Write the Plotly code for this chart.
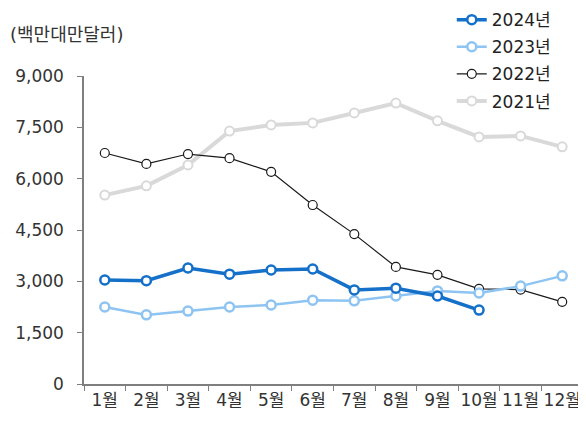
import plotly.graph_objects as go

months = ["1월", "2월", "3월", "4월", "5월", "6월", "7월", "8월", "9월", "10월", "11월", "12월"]

sales_2021 = [5520, 5790, 6400, 7390, 7570, 7630, 7920, 8210, 7690, 7220, 7250, 6930]
sales_2022 = [6750, 6430, 6720, 6600, 6200, 5230, 4380, 3420, 3190, 2780, 2760, 2400]
sales_2023 = [2250, 2020, 2130, 2250, 2310, 2450, 2430, 2570, 2720, 2660, 2860, 3160]
sales_2024 = [3040, 3020, 3390, 3210, 3330, 3360, 2750, 2800, 2570, 2160]

y_ticks = [0, 1500, 3000, 4500, 6000, 7500, 9000]

fig = go.Figure()

# oldest first so 2024 sits on top; legendrank puts 2024 first in the legend
fig.add_trace(go.Scatter(x=months, y=sales_2021, mode='lines+markers', name='2021년', legendgroup='2021', legendrank=4,
                         line=dict(color='#D9D9D9', width=4),
                         marker=dict(symbol='circle', size=9, color='white', line=dict(color='#D9D9D9', width=2))))
fig.add_trace(go.Scatter(x=months, y=sales_2022, mode='lines+markers', name='2022년', legendgroup='2022', legendrank=3,
                         line=dict(color='#1A1A1A', width=1.2),
                         marker=dict(symbol='circle', size=9, color='white', line=dict(color='#1A1A1A', width=1.2))))
fig.add_trace(go.Scatter(x=months, y=sales_2023, mode='lines+markers', name='2023년', legendgroup='2023', legendrank=2,
                         line=dict(color='#8EC4F2', width=2.5),
                         marker=dict(symbol='circle', size=9, color='white', line=dict(color='#8EC4F2', width=2.5))))
fig.add_trace(go.Scatter(x=months[:len(sales_2024)], y=sales_2024, mode='lines+markers', name='2024년', legendgroup='2024', legendrank=1,
                         line=dict(color='#1470C8', width=3.5),
                         marker=dict(symbol='circle', size=9, color='white', line=dict(color='#1470C8', width=2.5))))

fig.add_annotation(text='(백만대만달러)', xref='paper', yref='paper', x=-0.152, y=1.135,
                   xanchor='left', yanchor='middle', showarrow=False,
                   font=dict(size=18, color='#333333'))

# the page body has an 8px margin, so the figure is sized 8px smaller than the window
fig.update_layout(
    width=578, height=413,
    margin=dict(l=76, r=3, t=68, b=37, autoexpand=False),
    plot_bgcolor='white',
    paper_bgcolor='white',
    font=dict(family='DejaVu Sans, Noto Sans CJK KR, sans-serif', size=17, color='#333333'),
    legend=dict(x=0.737, y=1.24, xanchor='left', yanchor='top',
                traceorder='grouped', tracegroupgap=2, font=dict(size=17, color='#222222'),
                bgcolor='rgba(0,0,0,0)'),
    xaxis=dict(type='category', range=[-0.5, 11.5], showgrid=False, showline=True,
               linecolor='#7F7F7F', linewidth=1.5, ticks='outside', tickson='boundaries',
               ticklen=5, tickcolor='#7F7F7F', tickangle=0),
    yaxis=dict(range=[0, 9000], tickvals=y_ticks, tickformat=',', showgrid=False, showline=True,
               linecolor='#7F7F7F', linewidth=1.5, ticks='outside', ticklen=5, tickcolor='#7F7F7F',
               ticklabelstandoff=10, zeroline=False),
)

fig.write_html("out.html")
